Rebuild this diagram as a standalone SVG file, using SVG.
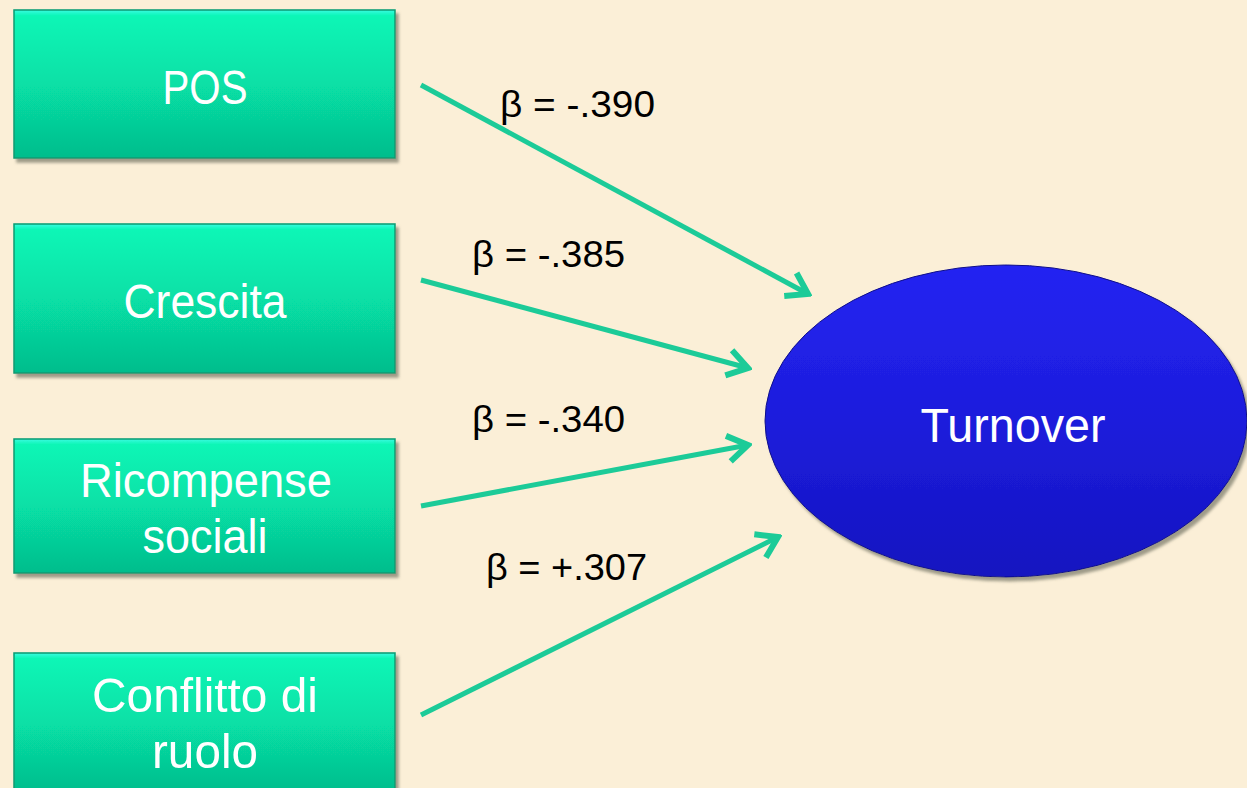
<svg xmlns="http://www.w3.org/2000/svg" width="1247" height="788" viewBox="0 0 1247 788">
<defs>
<linearGradient id="boxg" x1="0" y1="0" x2="0" y2="1">
<stop offset="0" stop-color="#3afbe0"/>
<stop offset="0.04" stop-color="#0cf6b6"/>
<stop offset="0.5" stop-color="#07e0a6"/>
<stop offset="1" stop-color="#05bd8c"/>
</linearGradient>
<linearGradient id="ellg" x1="0" y1="0" x2="0" y2="1">
<stop offset="0" stop-color="#2424f2"/>
<stop offset="0.5" stop-color="#1d1ddc"/>
<stop offset="1" stop-color="#1414c0"/>
</linearGradient>
<filter id="sh" x="-10%" y="-10%" width="125%" height="130%">
<feDropShadow dx="3" dy="4" stdDeviation="1.5" flood-color="#777766" flood-opacity="0.7"/>
</filter>
<marker id="chev" markerUnits="userSpaceOnUse" viewBox="-30 -20 34 40" refX="0" refY="0" markerWidth="34" markerHeight="40" orient="auto">
<path d="M-20,-13 L0,0 L-20,13" fill="none" stroke="#1ccb98" stroke-width="6" stroke-linejoin="miter"/>
</marker>
</defs>
<style>
.box{fill:url(#boxg);stroke:#089a72;stroke-width:1.5;filter:url(#sh)}
.bt{font-family:"Liberation Sans",Arial,sans-serif;font-size:49px;fill:#ffffff;text-anchor:middle}
.lbl{font-family:"Liberation Sans",Arial,sans-serif;font-size:36px;fill:#000000}
.con{stroke:#1ccb98;stroke-width:5;fill:none;marker-end:url(#chev)}
</style>
<rect x="0" y="0" width="1247" height="788" fill="#fbefd7"/>

<g id="node-pos">
<rect class="box" x="14" y="10" width="381" height="148"/>
<text class="bt" x="205" y="104" textLength="85" lengthAdjust="spacingAndGlyphs">POS</text>
</g>
<g id="node-crescita">
<rect class="box" x="14" y="224" width="381" height="149"/>
<text class="bt" x="205" y="318" textLength="163" lengthAdjust="spacingAndGlyphs">Crescita</text>
</g>
<g id="node-ricompense">
<rect class="box" x="14" y="439" width="381" height="134"/>
<text class="bt" x="206" y="497" textLength="252" lengthAdjust="spacingAndGlyphs">Ricompense</text>
<text class="bt" x="205" y="553" textLength="125" lengthAdjust="spacingAndGlyphs">sociali</text>
</g>
<g id="node-conflitto">
<rect class="box" x="14" y="653" width="381" height="140"/>
<text class="bt" x="205" y="712" textLength="226" lengthAdjust="spacingAndGlyphs">Conflitto di</text>
<text class="bt" x="205" y="768" textLength="106" lengthAdjust="spacingAndGlyphs">ruolo</text>
</g>
<g id="node-turnover">
<ellipse cx="1006" cy="421" rx="241" ry="156" fill="url(#ellg)" stroke="#10108a" stroke-width="1" filter="url(#sh)"/>
<text x="1013" y="442" font-family="'Liberation Sans',Arial,sans-serif" font-size="48" fill="#ffffff" text-anchor="middle" textLength="185" lengthAdjust="spacingAndGlyphs">Turnover</text>
</g>

<g id="connectors">
<line class="con" x1="421" y1="85" x2="808" y2="294"/>
<line class="con" x1="421" y1="280" x2="748" y2="368"/>
<line class="con" x1="421" y1="506" x2="748" y2="445"/>
<line class="con" x1="421" y1="715" x2="778" y2="537"/>
</g>

<g id="labels">
<text class="lbl" x="500" y="117" textLength="155" lengthAdjust="spacingAndGlyphs">β = -.390</text>
<text class="lbl" x="472" y="267" textLength="153" lengthAdjust="spacingAndGlyphs">β = -.385</text>
<text class="lbl" x="472" y="432" textLength="153" lengthAdjust="spacingAndGlyphs">β = -.340</text>
<text class="lbl" x="486" y="580" textLength="161" lengthAdjust="spacingAndGlyphs">β = +.307</text>
</g>
</svg>
